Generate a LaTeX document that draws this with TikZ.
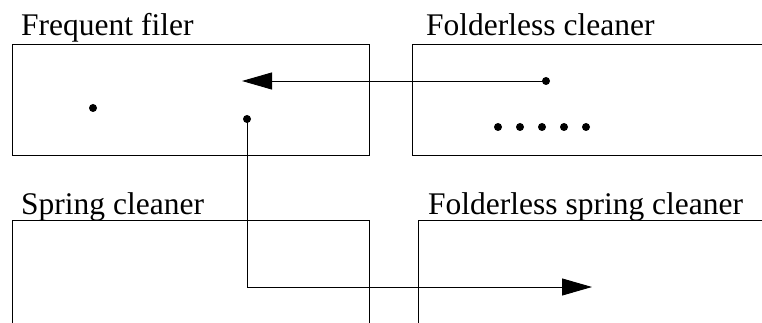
\documentclass[tikz,border=0pt]{standalone}
\usepackage{fontspec}
\setmainfont{Liberation Serif}
\usetikzlibrary{arrows.meta}
\begin{document}
\begin{tikzpicture}[x=1pt,y=-1pt,
  box/.style={draw, line width=0.9pt, rectangle, inner sep=0pt, outer sep=0pt, anchor=north west},
  lbl/.style={inner sep=0pt, anchor=base west, font=\fontsize{31.5}{36}\selectfont},
  dot/.style={circle, fill, inner sep=0pt, minimum size=8pt},
  conn/.style={line width=0.9pt, -{Triangle[length=30pt,width=17pt]}}]
\useasboundingbox (0,0) rectangle (762,323);
\clip (0,0) rectangle (762,323);
% boxes
\node[box, minimum width=357pt, minimum height=111pt] (ff) at (12,44) {};
\node[box, minimum width=400pt, minimum height=111pt] (fc) at (412,44) {};
\node[box, minimum width=357pt, minimum height=150pt] (sc) at (12,220) {};
\node[box, minimum width=400pt, minimum height=150pt] (fsc) at (418,220) {};
% labels
\node[lbl] (lff) at (21,36) {Frequent filer};
\node[lbl] (lfc) at (426,36) {Folderless cleaner};
\node[lbl] (lsc) at (21,214) {Spring cleaner};
\node[lbl] (lfsc) at (428,214) {Folderless spring cleaner};
% dots
\node[dot] (d1) at (93,108) {};
\node[dot] (d2) at (247,119) {};
\node[dot] (d3) at (546,81) {};
\node[dot] (e1) at (498,127) {};
\node[dot] (e2) at (520,127) {};
\node[dot] (e3) at (542,127) {};
\node[dot] (e4) at (564,127) {};
\node[dot] (e5) at (586,127) {};
% connector ends
\coordinate (t1) at (242,81);
\coordinate (t2) at (592,287);
\draw[conn] (d3.center) -- (t1);
\draw[conn] (d2.center) |- (t2);
\end{tikzpicture}
\end{document}
